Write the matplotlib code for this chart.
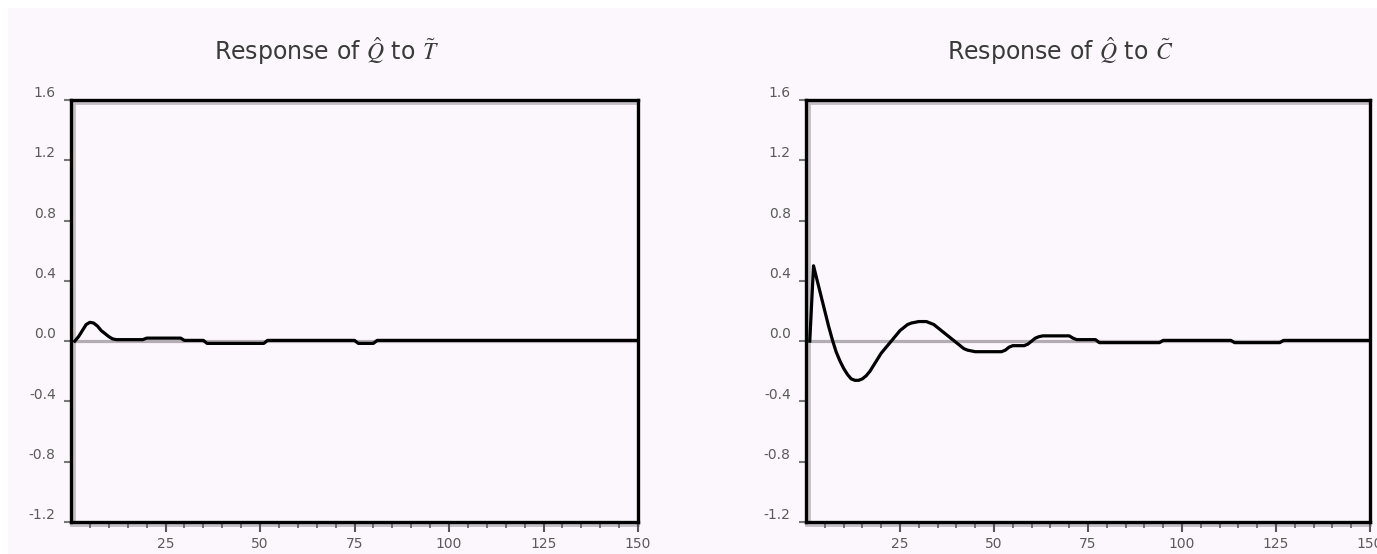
import numpy as np
import matplotlib
matplotlib.use("Agg")
import matplotlib.pyplot as plt
import matplotlib.transforms as mtransforms
from matplotlib.patches import Rectangle

# impulse responses (period, value)
periods_T = [1, 2, 3, 4, 5, 6, 7, 8, 9, 10, 11, 12, 19, 20, 29, 30, 35, 36, 51, 52, 75, 76, 80, 81, 150]
resp_T = [0.0, 0.03, 0.07, 0.11, 0.125, 0.12, 0.10, 0.07, 0.05, 0.03, 0.015, 0.01, 0.01, 0.02, 0.02,
          0.005, 0.005, -0.015, -0.015, 0.005, 0.005, -0.015, -0.015, 0.005, 0.005]

periods_C = [1, 2, 3, 4, 5, 6, 7, 8, 9, 10, 11, 12, 13, 14, 15, 16, 17, 18, 19, 20,
             21, 22, 23, 24, 25, 26, 27, 28, 29, 30, 31, 32, 33, 34, 35, 36, 37, 38, 39, 40,
             41, 42, 43, 44, 45, 52, 53, 54, 55, 58, 59, 60, 61, 62, 63, 70, 71, 72, 77,
             78, 94, 95, 113, 114, 126, 127, 150]
resp_C = [0.0, 0.50, 0.40, 0.30, 0.20, 0.10, 0.01, -0.07, -0.13, -0.18, -0.22, -0.25, -0.26, -0.26,
          -0.25, -0.23, -0.20, -0.16, -0.12, -0.08,
          -0.05, -0.02, 0.01, 0.04, 0.07, 0.09, 0.11, 0.12, 0.125, 0.13, 0.13, 0.13, 0.12, 0.11,
          0.09, 0.07, 0.05, 0.03, 0.01, -0.01,
          -0.03, -0.05, -0.06, -0.065, -0.07, -0.07, -0.06, -0.04, -0.03, -0.03, -0.02, 0.0, 0.02,
          0.03, 0.035, 0.035, 0.02, 0.01, 0.01,
          -0.01, -0.01, 0.005, 0.005, -0.01, -0.01, 0.005, 0.005]

titles = [r"Response of $\hat{Q}$ to $\tilde{T}$", r"Response of $\hat{Q}$ to $\tilde{C}$"]
yticks = [-1.2, -0.8, -0.4, 0.0, 0.4, 0.8, 1.2, 1.6]
xticks = [25, 50, 75, 100, 125, 150]

plt.rcParams['mathtext.fontset'] = 'stix'
plt.rcParams['axes.unicode_minus'] = False

W, H = 1377, 554
fig = plt.figure(figsize=(W / 100, H / 100), dpi=100)
fig.patch.set_facecolor('white')
bg = '#fcf7fc'
fig.patches.append(Rectangle((8 / W, 0), 1 - 8 / W, 1 - 8 / H, transform=fig.transFigure,
                             facecolor=bg, edgecolor='none', zorder=-10))

boxes = [(71, 567), (806, 564)]
data = [(periods_T, resp_T), (periods_C, resp_C)]
shade = '#c4bec4'

for (x0, w), (px, py), ttl in zip(boxes, data, titles):
    ax = fig.add_axes([x0 / W, 1 - 522 / H, w / W, 422 / H])
    ax.set_facecolor(bg)
    ax.axhline(0, color='#b3adb3', lw=2.3, zorder=1)
    ax.plot(px, py, color='black', lw=2.3, zorder=2)
    ax.set_xlim(0, 150)
    ax.set_ylim(-1.2, 1.6)

    # faint grey shadow along the frame
    sx = mtransforms.ScaledTranslation(3 / 100, 0, fig.dpi_scale_trans)
    sy = mtransforms.ScaledTranslation(0, -3 / 100, fig.dpi_scale_trans)
    ax.plot([0, 0], [0, 1], color=shade, lw=2, transform=ax.transAxes + sx, zorder=0.5)
    ax.plot([0, 1], [1, 1], color=shade, lw=2, transform=ax.transAxes + sy, zorder=0.5)
    ax.plot([0, 1], [0, 0], color=shade, lw=2, transform=ax.transAxes + sy,
            clip_on=False, zorder=0.5)

    ax.set_xticks(xticks)
    ax.set_xticklabels([str(t) for t in xticks])
    ax.set_xticks(np.arange(5, 150, 5), minor=True)
    ax.set_yticks(yticks)
    ax.set_yticklabels(["%.1f" % t for t in yticks])

    ax.tick_params(axis='x', which='major', direction='out', length=7, width=1.5,
                   color='#555555', labelsize=10, labelcolor='#5a5a5a', pad=4)
    ax.tick_params(axis='x', which='minor', direction='out', length=4, width=1.3, color='#666666')
    ax.tick_params(axis='y', which='major', direction='out', length=5, width=1.5,
                   color='#777777', labelsize=10, labelcolor='#5a5a5a', pad=6)
    shift = mtransforms.ScaledTranslation(0, 6 / 72, fig.dpi_scale_trans)
    for lab in ax.get_yticklabels():
        lab.set_transform(lab.get_transform() + shift)

    for sp in ax.spines.values():
        sp.set_linewidth(2.4)
        sp.set_color('black')

    ax.set_title(ttl, fontsize=17, color='#3a3a3a', pad=29, x=0.45)

fig.savefig('out.png', dpi=100, facecolor=fig.get_facecolor())
